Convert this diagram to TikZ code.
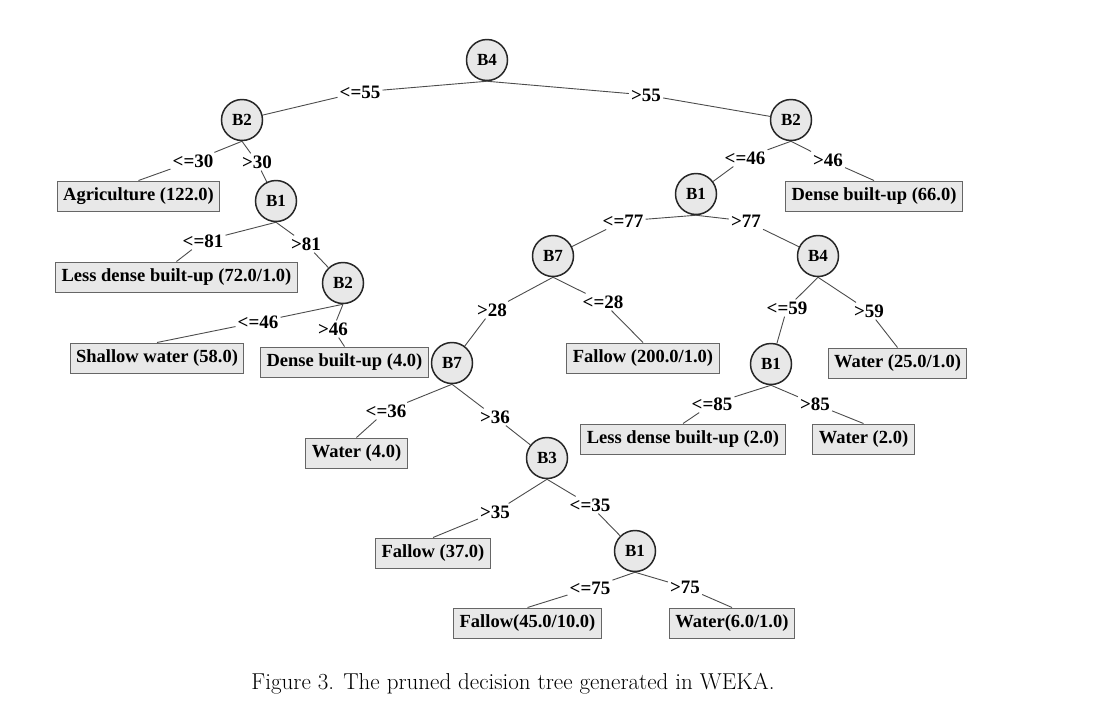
\documentclass[tikz,border=0pt]{standalone}
\usepackage{fontspec}
\newfontfamily\treefont{Liberation Serif}
\usetikzlibrary{shapes}

\begin{document}
\begin{tikzpicture}[x=1pt,y=-1pt]
            \tikzstyle{split} = [circle, draw=black!85, line width=1.5pt, fill=black!9, minimum size=41pt, inner sep=0pt, font=\treefont\bfseries\fontsize{17}{17}\selectfont]
            \tikzstyle{leaf} = [rectangle, draw=black!60, line width=1pt, fill=black!9, minimum height=30pt, inner xsep=6pt, font=\treefont\bfseries\fontsize{18.5}{18.5}\selectfont]
            \tikzstyle{cond} = [inner sep=2pt, font=\treefont\bfseries\fontsize{19}{19}\selectfont]
            \tikzstyle{edge} = [draw=black!70, line width=0.9pt]

            \useasboundingbox (0,0) rectangle (1098,705);

            % splits
            \node [split] (b4) at (487,60) {B4};
            \node [split] (b2l) at (242,120) {B2};
            \node [split] (b2r) at (791,120) {B2};
            \node [split] (b1l) at (276,201) {B1};
            \node [split] (b2m) at (343,283) {B2};
            \node [split] (b7a) at (452,363) {B7};
            \node [split] (b3) at (547,458) {B3};
            \node [split] (b1c) at (635,551) {B1};
            \node [split] (b1r) at (696,194) {B1};
            \node [split] (b7b) at (553,256) {B7};
            \node [split] (b4r) at (818,256) {B4};
            \node [split] (b1s) at (771,364) {B1};

            % leaves
            \node [leaf] (agri) at (138.5,196) {Agriculture (122.0)};
            \node [leaf] (ldb1) at (176.5,277) {Less dense built-up (72.0/1.0)};
            \node [leaf] (shw) at (157,358) {Shallow water (58.0)};
            \node [leaf] (dbu4) at (344.5,362) {Dense built-up (4.0)};
            \node [leaf] (dbu66) at (874,196) {Dense built-up (66.0)};
            \node [leaf] (fal200) at (643,358) {Fallow (200.0/1.0)};
            \node [leaf] (wat25) at (897.5,363) {Water (25.0/1.0)};
            \node [leaf] (wat4) at (356.5,453) {Water (4.0)};
            \node [leaf] (ldb2) at (683,439) {Less dense built-up (2.0)};
            \node [leaf] (wat2) at (863.5,439) {Water (2.0)};
            \node [leaf] (fal37) at (433,553) {Fallow (37.0)};
            \node [leaf] (fal45) at (527.5,623) {Fallow(45.0/10.0)};
            \node [leaf] (wat6) at (732,623) {Water(6.0/1.0)};

            % conditions
            \node [cond] (c55l) at (360,92) {<=55};
            \node [cond] (c55r) at (646,95) {>55};
            \node [cond] (c30l) at (193,161) {<=30};
            \node [cond] (c30r) at (257,162) {>30};
            \node [cond] (c81l) at (203,241) {<=81};
            \node [cond] (c81r) at (306,244) {>81};
            \node [cond] (c46l) at (258,322) {<=46};
            \node [cond] (c46r) at (333,329) {>46};
            \node [cond] (d46l) at (745,158) {<=46};
            \node [cond] (d46r) at (828,160) {>46};
            \node [cond] (c77l) at (623,221) {<=77};
            \node [cond] (c77r) at (746,221) {>77};
            \node [cond] (c28r) at (492,310) {>28};
            \node [cond] (c28l) at (603,302) {<=28};
            \node [cond] (c59l) at (787,308) {<=59};
            \node [cond] (c59r) at (869,311) {>59};
            \node [cond] (c36l) at (386,411) {<=36};
            \node [cond] (c36r) at (495,417) {>36};
            \node [cond] (c85l) at (712,404) {<=85};
            \node [cond] (c85r) at (815,404) {>85};
            \node [cond] (c35r) at (495,512) {>35};
            \node [cond] (c35l) at (590,505) {<=35};
            \node [cond] (c75l) at (590,588) {<=75};
            \node [cond] (c75r) at (685,587) {>75};

            \draw [edge] (b4.south) -- (c55l) -- (b2l);
            \draw [edge] (b4.south) -- (c55r) -- (b2r);
            \draw [edge] (b2l.south) -- (c30l) -- (agri.north);
            \draw [edge] (b2l.south) -- (c30r) -- (b1l);
            \draw [edge] (b1l.south) -- (c81l) -- (ldb1.north);
            \draw [edge] (b1l.south) -- (c81r) -- (b2m);
            \draw [edge] (b2m.south) -- (c46l) -- (shw.north);
            \draw [edge] (b2m.south) -- (c46r) -- (dbu4.north);
            \draw [edge] (b2r.south) -- (d46l) -- (b1r);
            \draw [edge] (b2r.south) -- (d46r) -- (dbu66.north);
            \draw [edge] (b1r.south) -- (c77l) -- (b7b);
            \draw [edge] (b1r.south) -- (c77r) -- (b4r);
            \draw [edge] (b7b.south) -- (c28r) -- (b7a);
            \draw [edge] (b7b.south) -- (c28l) -- (fal200.north);
            \draw [edge] (b4r.south) -- (c59l) -- (b1s);
            \draw [edge] (b4r.south) -- (c59r) -- (wat25.north);
            \draw [edge] (b7a.south) -- (c36l) -- (wat4.north);
            \draw [edge] (b7a.south) -- (c36r) -- (b3);
            \draw [edge] (b1s.south) -- (c85l) -- (ldb2.north);
            \draw [edge] (b1s.south) -- (c85r) -- (wat2.north);
            \draw [edge] (b3.south) -- (c35r) -- (fal37.north);
            \draw [edge] (b3.south) -- (c35l) -- (b1c);
            \draw [edge] (b1c.south) -- (c75l) -- (fal45.north);
            \draw [edge] (b1c.south) -- (c75r) -- (wat6.north);

            \node [font=\fontsize{23}{27}\selectfont] (caption) at (513,684) {Figure 3. The pruned decision tree generated in WEKA.};
        \end{tikzpicture}
\end{document}
